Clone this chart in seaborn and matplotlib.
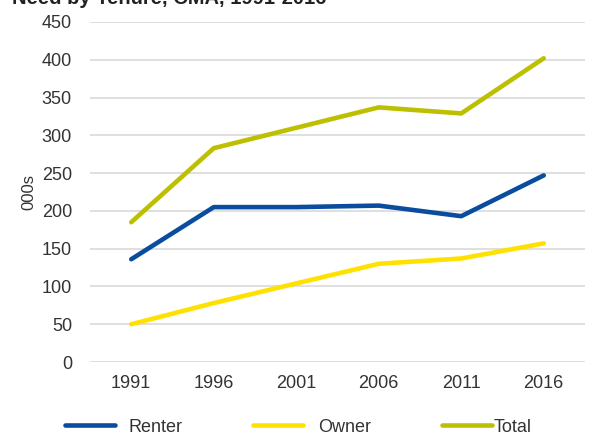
import matplotlib
matplotlib.use("Agg")
import matplotlib.pyplot as plt
from matplotlib.legend import Legend
import seaborn as sns
import pandas as pd

years = ["1991", "1996", "2001", "2006", "2011", "2016"]
renter = [136, 205, 205, 207, 193, 247]
owner = [50, 78, 104, 130, 137, 157]
total = [185, 283, 310, 337, 329, 402]
series_names = ["Renter", "Owner", "Total"]
y_ticks = [0, 50, 100, 150, 200, 250, 300, 350, 400, 450]

colors = {"Renter": "#0A4D9E", "Owner": "#FFE100", "Total": "#BDC000"}

sns.set_theme(style="white")
plt.rcParams["font.family"] = ["Liberation Sans", "DejaVu Sans"]

W, H = 589, 436

df = pd.DataFrame({
    "Year": years * 3,
    "Value": renter + owner + total,
    "Tenure": [s for s in series_names for _ in years],
})

fig = plt.figure(figsize=(W / 100, H / 100), dpi=100)
ax = fig.add_axes([90 / W, 1 - 362 / H, 495 / W, 340 / H])

sns.lineplot(data=df, x="Year", y="Value", hue="Tenure", palette=colors,
             linewidth=3.3, sort=False, ax=ax, legend=True)

ax.set_xlim(-0.5, 5.5)
ax.set_ylim(0, 450)
ax.set_yticks(y_ticks)
ax.yaxis.grid(True, color="#D9D9D9", linewidth=1.2)
ax.set_axisbelow(True)
for s in ax.spines.values():
    s.set_visible(False)
ax.tick_params(axis="both", labelsize=13, colors="#333333", length=0)
ax.tick_params(axis="y", pad=13)
ax.tick_params(axis="x", pad=9)
ax.set_xlabel("")
ax.set_ylabel("000s", fontsize=12, color="#333333", labelpad=4)

# legend entries laid out individually along the bottom
handles, labels = ax.get_legend_handles_labels()
ax.get_legend().remove()
entry_x = [65, 253, 442]
text_pad = [0.75, 0.85, 0.1]
for h, lab, x0, pad in zip(handles, labels, entry_x, text_pad):
    lg = Legend(fig, [h], [lab], loc="center left",
                bbox_to_anchor=(x0 / W, 1 - 427 / H),
                bbox_transform=fig.transFigure, frameon=False, fontsize=13,
                handlelength=2.75, handletextpad=pad, borderpad=0,
                borderaxespad=0, labelcolor="#333333")
    fig.add_artist(lg)

fig.text(12 / W, 1 - 3.5 / H, "Need by Tenure, CMA, 1991-2016", fontsize=14.5,
         fontweight="bold", color="#222222", va="baseline", ha="left")

fig.savefig("out.png", dpi=100)
